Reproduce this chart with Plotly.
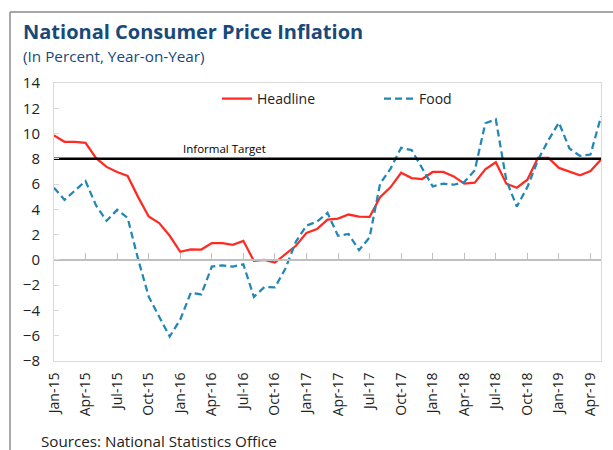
import plotly.graph_objects as go

# ---------------- data ----------------
months = [f"{m}-{y}" for y in ["15", "16", "17", "18", "19"]
          for m in ["Jan", "Feb", "Mar", "Apr", "May", "Jun", "Jul", "Aug", "Sep", "Oct", "Nov", "Dec"]][:53]

headline = [9.85, 9.35, 9.35, 9.27, 8.05, 7.36, 6.96, 6.64, 4.97, 3.43, 2.92, 1.91,
            0.64, 0.83, 0.82, 1.33, 1.33, 1.20, 1.51, -0.08, 0.00, -0.21, 0.45, 1.12,
            2.14, 2.44, 3.19, 3.27, 3.59, 3.43, 3.40, 4.97, 5.76, 6.90, 6.48, 6.40,
            6.96, 6.96, 6.61, 6.03, 6.11, 7.17, 7.73, 6.03, 5.71, 6.35, 8.07, 8.07,
            7.28, 6.96, 6.69, 7.04, 7.94]

food = [5.71, 4.75, 5.50, 6.24, 4.30, 3.10, 3.96, 3.32, 0.05, -2.90, -4.50, -6.06,
        -4.73, -2.60, -2.73, -0.53, -0.43, -0.53, -0.35, -2.93, -2.15, -2.18, -0.68, 1.45,
        2.71, 3.03, 3.72, 1.91, 2.05, 0.77, 1.78, 6.03, 7.23, 8.87, 8.69, 7.23,
        5.82, 6.03, 5.95, 6.16, 7.09, 10.81, 11.13, 6.29, 4.22, 5.76, 7.89, 9.48,
        10.86, 8.82, 8.23, 8.34, 11.34]

TARGET = 8
tick_labels = months[::3]

title = "National Consumer Price Inflation"
subtitle = "(In Percent, Year-on-Year)"
source = "Sources: National Statistics Office"

# ---------------- layout helpers ----------------
W, Hh = 613, 450
L, R, T, B = 54, 601, 83, 361
def px2x(px): return (px - L) / (R - L)
def py2y(py): return (B - py) / (B - T)

FONT = "Open Sans"
TXT = "#222222"
BLUE_T = "#17497A"
RED = "#FF2A22"
FOODC = "#2187B5"
GRAY = "#BFBFBF"

fig = go.Figure()

fig.add_trace(go.Scatter(x=months, y=headline, name="Headline", mode="lines",
                         line=dict(color=RED, width=2.25), legend="legend"))
fig.add_trace(go.Scatter(x=months, y=food, name="Food", mode="lines",
                         line=dict(color=FOODC, width=2.25, dash="7px,4px"), legend="legend2"))
fig.add_trace(go.Scatter(x=months, y=[TARGET] * len(months), mode="lines", showlegend=False,
                         line=dict(color="black", width=2.5), hoverinfo="skip"))
# helper trace for the zero-line axis with tick marks
fig.add_trace(go.Scatter(x=months, y=[None] * len(months), xaxis="x2", showlegend=False,
                         hoverinfo="skip", mode="lines"))

zero_pos = (0 - (-8)) / (14 - (-8))

fig.update_layout(
    width=W, height=Hh,
    margin=dict(l=L, r=W - R, t=T, b=Hh - B, pad=0),
    paper_bgcolor="white", plot_bgcolor="white",
    font=dict(family=FONT, color=TXT, size=13),
    xaxis=dict(type="category", categoryarray=months, range=[0, len(months) - 1],
               tickmode="array", tickvals=tick_labels, ticktext=tick_labels,
               tickangle=-90, ticks="", showgrid=False, zeroline=False,
               showline=True, linecolor="#D9D9D9", linewidth=1, mirror=True,
               tickfont=dict(size=14, color=TXT), ticklabelstandoff=5, automargin=False),
    xaxis2=dict(type="category", categoryarray=months, range=[0, len(months) - 1],
                overlaying="x", anchor="free", position=zero_pos,
                tickmode="array", tickvals=tick_labels, showticklabels=False,
                ticks="inside", ticklen=6, tickcolor=GRAY, tickwidth=1,
                showline=True, linecolor=GRAY, linewidth=1.5, showgrid=False, zeroline=False),
    yaxis=dict(range=[-8, 14], dtick=2, tick0=0, showgrid=False, zeroline=False,
               ticks="inside", ticklen=5, tickcolor="#D9D9D9",
               showline=True, linecolor="#D9D9D9", linewidth=1, mirror=True,
               tickfont=dict(size=15, color=TXT), ticklabelstandoff=10, automargin=False),
    legend=dict(x=px2x(217), y=py2y(99), xanchor="left", yanchor="middle",
                bgcolor="rgba(0,0,0,0)", font=dict(size=14, color=TXT)),
    legend2=dict(x=px2x(379), y=py2y(99), xanchor="left", yanchor="middle",
                 bgcolor="rgba(0,0,0,0)", font=dict(size=14, color=TXT)),
    showlegend=True,
)

fig.add_annotation(text="Informal Target", x=16.25, y=TARGET, xref="x", yref="y",
                   yshift=10, showarrow=False, font=dict(size=11.5, color="black"))

fig.add_annotation(text=f"<b>{title}</b>", xref="paper", yref="paper",
                   x=px2x(21), y=py2y(31), xanchor="left", yanchor="middle",
                   showarrow=False, font=dict(size=20, color=BLUE_T))
fig.add_annotation(text=subtitle, xref="paper", yref="paper",
                   x=px2x(21), y=py2y(56), xanchor="left", yanchor="middle",
                   showarrow=False, font=dict(size=15.3, color=BLUE_T))
fig.add_annotation(text=source, xref="paper", yref="paper",
                   x=px2x(39), y=py2y(441), xanchor="left", yanchor="middle",
                   showarrow=False, font=dict(size=15.2, color=TXT))

# outer frame
fig.add_shape(type="line", xref="paper", yref="paper", x0=px2x(10), x1=px2x(613),
              y0=py2y(12), y1=py2y(12), line=dict(color="#A6A6A6", width=2))
fig.add_shape(type="line", xref="paper", yref="paper", x0=px2x(10), x1=px2x(10),
              y0=py2y(12), y1=py2y(452), line=dict(color="#8C8C8C", width=1.5))

fig.write_html("out.html", config={"displayModeBar": False},
               post_script="document.body.style.margin='0';document.body.style.overflow='hidden';")
